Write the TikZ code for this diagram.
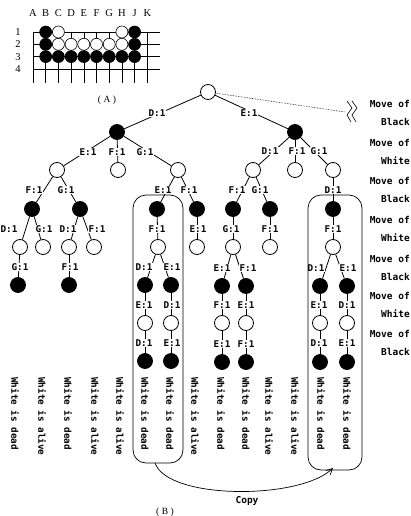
\documentclass[tikz,border=0pt]{standalone}
\usepackage{fontspec}
\newfontfamily\monofont[BoldFont={DejaVu Sans Mono Bold}]{DejaVu Sans Mono}
\newfontfamily\boardfont{Liberation Serif}
\usetikzlibrary{arrows.meta}
\begin{document}
\begin{tikzpicture}[x=1pt,y=-1pt,
  wn/.style={circle,draw,fill=white,minimum size=15pt,inner sep=0pt,line width=0.8pt},
  bn/.style={circle,draw,fill=black,minimum size=15pt,inner sep=0pt,line width=0.8pt},
  lbl/.style={font=\monofont\bfseries\fontsize{9.3}{10}\selectfont,fill=white,inner sep=0.6pt},
  edg/.style={line width=0.8pt},
  vtext/.style={font=\monofont\bfseries\fontsize{9.3}{10}\selectfont,rotate=-90,anchor=west,inner sep=0pt},
  mv/.style={font=\monofont\bfseries\fontsize{9.5}{18}\selectfont,align=right,anchor=east,inner sep=0pt},
  sB/.style={circle,draw,fill=black,minimum size=12pt,inner sep=0pt,line width=0.6pt},
  sW/.style={circle,draw,fill=white,minimum size=12pt,inner sep=0pt,line width=0.6pt},
  blbl/.style={font=\boardfont\fontsize{10.5}{10}\selectfont,inner sep=0pt},
  boxst/.style={draw,line width=0.7pt,rounded corners=13pt},
]
\useasboundingbox (0,0) rectangle (411,516);
% ---------------- board (A) ----------------
\foreach \c/\x in {A/33,B/45.7,C/58.4,D/71.1,E/83.8,F/96.5,G/109.2,H/121.9,J/134.6,K/147.3}{
  \node[blbl] (col\c) at (\x,13) {\c};
  \draw[line width=0.6pt] (\x,32) -- (\x,83);
}
\foreach \r/\y in {1/32,2/44.3,3/56.6,4/69}{
  \node[blbl] (row\r) at (18,\y) {\r};
  \draw[line width=0.6pt] (33,\y) -- (160,\y);
}
\node[sB] (s1B) at (45.7,32) {};
\node[sW] (s1C) at (58.4,32) {};
\node[sW] (s1H) at (121.9,32) {};
\node[sB] (s1J) at (134.6,32) {};
\node[sB] (s2B) at (45.7,44.3) {};
\foreach \x/\n in {58.4/C,71.1/D,83.8/E,96.5/F,109.2/G,121.9/H}{\node[sW] (s2\n) at (\x,44.3) {};}
\node[sB] (s2J) at (134.6,44.3) {};
\foreach \x/\n in {45.7/B,58.4/C,71.1/D,83.8/E,96.5/F,109.2/G,121.9/H,134.6/J}{\node[sB] (s3\n) at (\x,56.6) {};}
\node[blbl,font=\boardfont\fontsize{9.5}{10}\selectfont] (capA) at (107,100) {(\hspace{2.5pt}A\hspace{2.5pt})};

% ---------------- tree nodes ----------------
\node[wn] (root) at (208,92) {};
\node[bn] (a) at (117,132) {};
\node[bn] (b) at (295,132) {};
% left subtree
\node[wn] (a1) at (57,170) {};
\node[wn] (a2) at (118,170) {};
\node[wn] (a3) at (178,170) {};
\node[bn] (a11) at (32,209) {};
\node[bn] (a12) at (80,209) {};
\node[bn] (a31) at (157,209) {};
\node[bn] (a32) at (197,209) {};
\node[wn] (a111) at (20,247) {};
\node[wn] (a112) at (43,247) {};
\node[wn] (a121) at (69,247) {};
\node[wn] (a122) at (94,247) {};
\node[wn] (a311) at (158,247) {};
\node[wn] (a321) at (197,247) {};
\node[bn] (a1111) at (18,285) {};
\node[bn] (a1211) at (69,285) {};
\node[bn] (a3111) at (145,285) {};
\node[bn] (a3112) at (171,285) {};
\node[wn] (a31111) at (145,323) {};
\node[wn] (a31121) at (171,323) {};
\node[bn] (a311111) at (145,361) {};
\node[bn] (a311211) at (171,361) {};
% right subtree
\node[wn] (b1) at (253,170) {};
\node[wn] (b2) at (295,170) {};
\node[wn] (b3) at (333,170) {};
\node[bn] (b11) at (233,209) {};
\node[bn] (b12) at (270,209) {};
\node[bn] (b31) at (333,209) {};
\node[wn] (b111) at (233,247) {};
\node[wn] (b121) at (270,247) {};
\node[wn] (b311) at (333,247) {};
\node[bn] (b1111) at (222,286) {};
\node[bn] (b1112) at (246,286) {};
\node[wn] (b11111) at (222,323) {};
\node[wn] (b11121) at (246,323) {};
\node[bn] (b111111) at (222,362) {};
\node[bn] (b111211) at (246,362) {};
\node[bn] (b3111) at (320,286) {};
\node[bn] (b3112) at (347,286) {};
\node[wn] (b31111) at (320,323) {};
\node[wn] (b31121) at (347,323) {};
\node[bn] (b311111) at (320,362) {};
\node[bn] (b311211) at (347,362) {};

% ---------------- edges ----------------
\foreach \p/\c in {root/a,root/b,a/a1,a/a2,a/a3,a1/a11,a1/a12,a3/a31,a3/a32,
  a11/a111,a11/a112,a12/a121,a12/a122,a31/a311,a32/a321,a111/a1111,a121/a1211,
  a311/a3111,a311/a3112,a3111/a31111,a3112/a31121,a31111/a311111,a31121/a311211,
  b/b1,b/b2,b/b3,b1/b11,b1/b12,b3/b31,b11/b111,b12/b121,b31/b311,
  b111/b1111,b111/b1112,b1111/b11111,b1112/b11121,b11111/b111111,b11121/b111211,
  b311/b3111,b311/b3112,b3111/b31111,b3112/b31121,b31111/b311111,b31121/b311211}{
  \draw[edg] (\p) -- (\c);
}

% ---------------- edge labels ----------------
\node[lbl] (l-a) at (157,113) {D:1};
\node[lbl] (l-b) at (249,113) {E:1};
\node[lbl] (l-a1) at (88,152) {E:1};
\node[lbl] (l-a2) at (117,152) {F:1};
\node[lbl] (l-a3) at (145,152) {G:1};
\node[lbl] (l-a11) at (34,190) {F:1};
\node[lbl] (l-a12) at (66,190) {G:1};
\node[lbl] (l-a31) at (163,190) {E:1};
\node[lbl] (l-a32) at (189,190) {F:1};
\node[lbl] (l-a111) at (9,229) {D:1};
\node[lbl] (l-a112) at (44,229) {G:1};
\node[lbl] (l-a121) at (68,229) {D:1};
\node[lbl] (l-a122) at (97,229) {F:1};
\node[lbl] (l-a311) at (157,229) {F:1};
\node[lbl] (l-a321) at (198,229) {E:1};
\node[lbl] (l-a1111) at (20,267) {G:1};
\node[lbl] (l-a1211) at (70,267) {F:1};
\node[lbl] (l-a3111) at (144,267) {D:1};
\node[lbl] (l-a3112) at (172,267) {E:1};
\node[lbl] (l-a31111) at (144,305) {E:1};
\node[lbl] (l-a31121) at (172,305) {D:1};
\node[lbl] (l-a311111) at (144,343) {D:1};
\node[lbl] (l-a311211) at (172,343) {E:1};
\node[lbl] (l-b1) at (270,151) {D:1};
\node[lbl] (l-b2) at (297,151) {F:1};
\node[lbl] (l-b3) at (319,151) {G:1};
\node[lbl] (l-b11) at (237,190) {F:1};
\node[lbl] (l-b12) at (260,190) {G:1};
\node[lbl] (l-b31) at (333,190) {D:1};
\node[lbl] (l-b111) at (231,229) {G:1};
\node[lbl] (l-b121) at (270,229) {F:1};
\node[lbl] (l-b311) at (333,229) {F:1};
\node[lbl] (l-b1111) at (222,268) {E:1};
\node[lbl] (l-b1112) at (248,268) {F:1};
\node[lbl] (l-b11111) at (222,305) {F:1};
\node[lbl] (l-b11121) at (246,305) {E:1};
\node[lbl] (l-b111111) at (222,344) {E:1};
\node[lbl] (l-b111211) at (246,344) {F:1};
\node[lbl] (l-b3111) at (316,268) {D:1};
\node[lbl] (l-b3112) at (348,268) {E:1};
\node[lbl] (l-b31111) at (319,305) {E:1};
\node[lbl] (l-b31121) at (347,305) {D:1};
\node[lbl] (l-b311111) at (319,343) {D:1};
\node[lbl] (l-b311211) at (347,343) {E:1};

% ---------------- result texts ----------------
\foreach \i/\x/\t in {1/15/dead,2/42/alive,3/68/dead,4/95/alive,5/120/alive,6/145/dead,7/170/dead,
  8/195/alive,9/221/dead,10/246/dead,11/269/alive,12/295/alive,13/321/dead,14/347/dead}{
  \node[vtext] (res\i) at (\x,377) {White is \t};
}

% ---------------- boxes ----------------
\draw[boxst] (133,463) rectangle (183,195);
\draw[boxst] (308,470) rectangle (362,195);
\coordinate (cpS) at (155,463);
\coordinate (cpE) at (333,468);
\draw[line width=0.7pt,-{Straight Barb[length=6pt,width=6pt]}] (cpS) .. controls (168,500) and (300,500) .. (cpE);
\node[font=\monofont\bfseries\fontsize{9.5}{10}\selectfont,inner sep=0pt] (copy) at (247,501) {Copy};
\node[font=\boardfont\fontsize{9.5}{10}\selectfont,inner sep=0pt] (capB) at (165,512) {(\hspace{2.5pt}B\hspace{2.5pt})};

% ---------------- move labels ----------------
\coordinate (brk) at (345,112);
\draw[densely dotted,line width=0.6pt] (root) -- (brk);
\draw[line width=0.6pt] (347,101) -- (352,108) -- (347,115) -- (351,122);
\draw[line width=0.6pt] (352,101) -- (357,108) -- (352,115) -- (356,122);
\node[mv] (mv1) at (410,113) {Move of\\Black};
\node[mv] (mv2) at (410,152) {Move of\\White};
\node[mv] (mv3) at (410,190) {Move of\\Black};
\node[mv] (mv4) at (410,229) {Move of\\White};
\node[mv] (mv5) at (410,268) {Move of\\Black};
\node[mv] (mv6) at (410,305) {Move of\\White};
\node[mv] (mv7) at (410,343) {Move of\\Black};
\end{tikzpicture}
\end{document}
